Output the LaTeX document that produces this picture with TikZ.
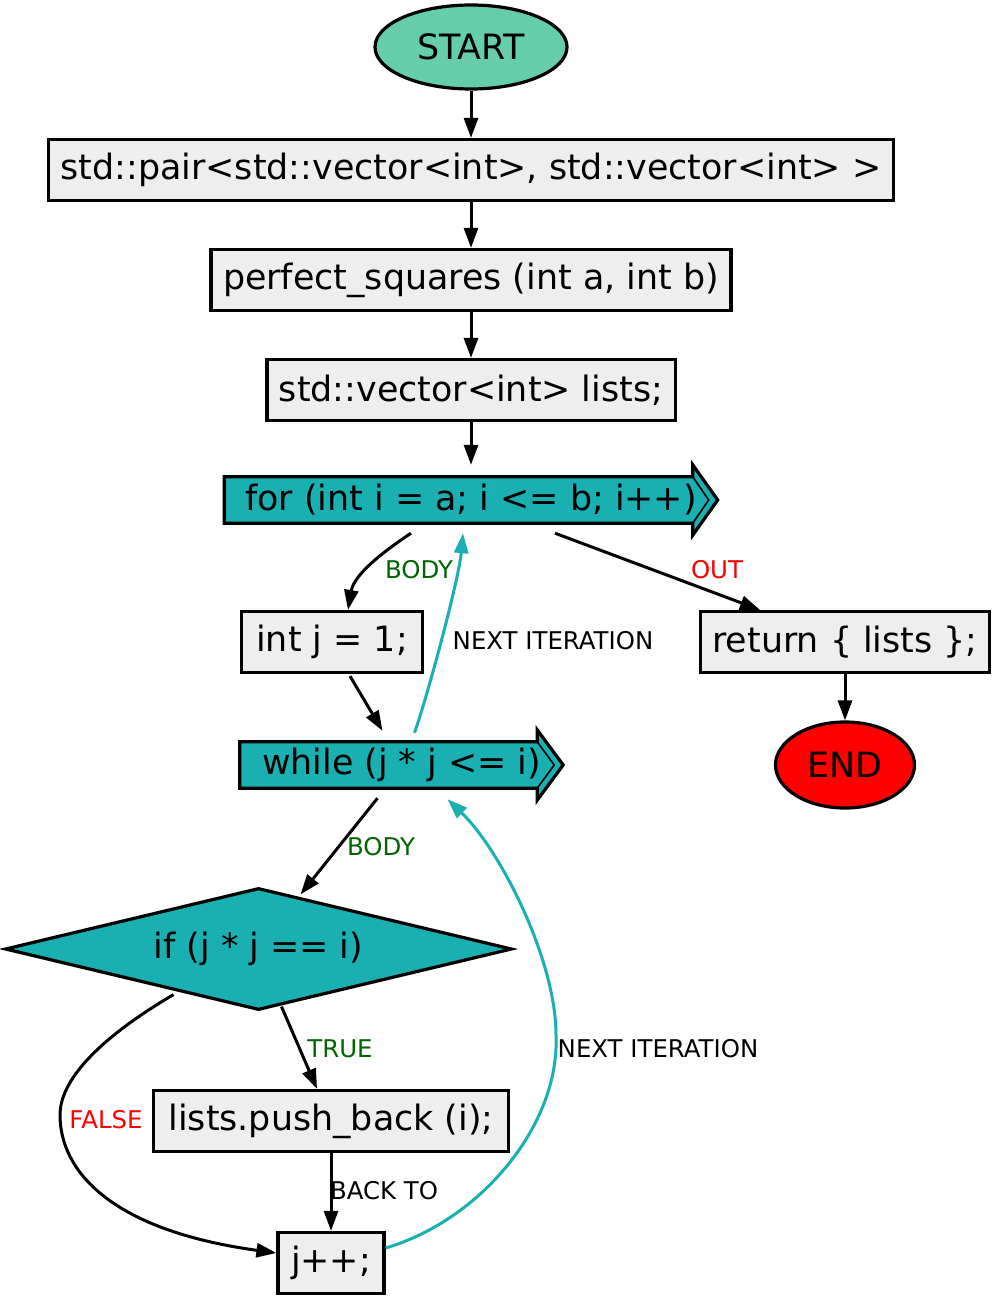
\documentclass[tikz,border=0pt]{standalone}
\usepackage{fontspec}
\setmainfont{DejaVu Sans}
\usetikzlibrary{shapes.geometric,arrows.meta,backgrounds,calc}
\definecolor{loopcol}{HTML}{1AAFB0}
\definecolor{startcol}{HTML}{66CDAA}
\definecolor{boxgray}{HTML}{EEEEEE}
\definecolor{truecol}{HTML}{006400}

\begin{document}
\begin{tikzpicture}[x=1bp, y=-1bp,
    statement/.style ={rectangle, draw, line width=3.2bp, fill=boxgray, inner xsep=12bp, inner ysep=0pt, minimum height=61bp, font=\fontsize{35}{42}\selectfont},
    loop/.style ={rectangle, inner sep=0pt, minimum height=46bp, font=\fontsize{35}{42}\selectfont},
    terminal/.style ={ellipse, draw, line width=3.2bp, inner sep=0pt, font=\fontsize{35}{42}\selectfont},
    decision/.style ={diamond, aspect=4.16, draw, line width=3.2bp, fill=loopcol, inner sep=0pt, font=\fontsize{35}{42}\selectfont},
    outline/.style ={line width=3.2bp, fill=loopcol, line join=miter},
    flow/.style ={line width=3bp, -{Triangle[length=20bp,width=14bp]}},
    back/.style ={flow, draw=loopcol, -{Triangle[length=20bp,width=14bp,fill=loopcol]}},
    lbl/.style ={font=\fontsize{24.5}{29}\selectfont, inner sep=0pt}]
   \useasboundingbox (0,0) rectangle (993,1299);

   \node[terminal, fill=startcol, minimum width=192bp, minimum height=84bp] (start) at (471,47) {START};
   \node[statement] (pair)  at (471,170)  {std::pair<std::vector<int>, std::vector<int> >};
   \node[statement] (perf)  at (471,280)  {perfect\_squares (int a, int b)};
   \node[statement] (lists) at (471,390)  {std::vector<int> lists;};
   \node[loop, minimum width=493bp] (for) at (471,500) {for (int i = a; i <= b; i++)};
   \node[statement, minimum width=181bp] (intj)  at (332,642)  {int j = 1;};
   \node[statement, minimum width=286bp] (ret)   at (845,642)  {return \{ lists \};};
   \node[terminal, fill=red, minimum width=139bp, minimum height=86bp] (end) at (845,765) {END};
   \node[loop, minimum width=323bp] (while) at (401.5,765) {while (j * j <= i)};
   \node[decision, minimum width=507bp, minimum height=122bp] (if) at (258.5,949) {if (j * j == i)};
   \node[statement, minimum width=355bp] (push)  at (331,1121) {lists.push\_back (i);};
   \node[statement, minimum width=106bp] (jpp)   at (331,1263) {j++;};

   \begin{scope}[on background layer]
   \draw[outline] (for.north west) -- ($(for.north east)+(-25,0)$) -- ++(0,-12) -- (for.east)
      -- ($(for.south east)+(-25,12)$) -- ++(0,-12) -- (for.south west) -- cycle;
   \draw[line width=1.6bp] ($(for.north east)+(-25,0)$) -- ($(for.east)+(-9,0)$) -- ($(for.south east)+(-25,0)$);
   \draw[outline] (while.north west) -- ($(while.north east)+(-26,0)$) -- ++(0,-12) -- (while.east)
      -- ($(while.south east)+(-26,12)$) -- ++(0,-12) -- (while.south west) -- cycle;
   \draw[line width=1.6bp] ($(while.north east)+(-26,0)$) -- ($(while.east)+(-9,0)$) -- ($(while.south east)+(-26,0)$);
   \end{scope}

   \draw[flow] (start) to (pair);
   \draw[flow] (pair) to (perf);
   \draw[flow] (perf) to (lists);
   \draw[flow] (lists) to ([yshift=12bp]for.north);
   \draw[flow] ([xshift=-60bp,yshift=-10bp]for.south) .. controls +(-30,20) and +(6,-35) .. ([xshift=16bp]intj.north);
   \draw[flow] ([xshift=84bp,yshift=-10bp]for.south) to ([xshift=-85bp]ret.north);
   \draw[flow] (ret) to (end);
   \draw[flow] ([xshift=18bp,yshift=-2bp]intj.south) to ([xshift=-19bp,yshift=11bp]while.north);
   \draw[back] ([xshift=13bp,yshift=9bp]while.north) .. controls +(14,-40) and +(-4,45) .. ([xshift=-8bp,yshift=-10bp]for.south);
   \draw[flow] ([xshift=-24bp,yshift=-10bp]while.south) to ([xshift=42bp,yshift=-8bp]if.north);
   \draw[flow] ([xshift=23bp,yshift=5bp]if.south) to ([xshift=-14bp]push.north);
   \draw[flow] ([xshift=-85bp,yshift=17bp]if.south) .. controls +(-63,37) and +(0,-40) .. (60,1115)
      .. controls +(0,55) and +(-167,-23) .. ([yshift=10bp]jpp.west);
   \draw[flow] (push) to (jpp);
   \draw[back] ([yshift=15bp]jpp.east) .. controls +(95,-28) and +(4,90) .. (556,1035)
      .. controls +(0,-75) and +(53,51) .. ([xshift=46bp,yshift=-11bp]while.south);

   \node[lbl, text=truecol] (lbody1) at (419,570)  {BODY};
   \node[lbl, text=red]     (lout)   at (717,570)  {OUT};
   \node[lbl]               (lnext1) at (553,641)  {NEXT ITERATION};
   \node[lbl, text=truecol] (lbody2) at (381,847)  {BODY};
   \node[lbl, text=truecol] (ltrue)  at (340,1049) {TRUE};
   \node[lbl, text=red]     (lfalse) at (106,1120) {FALSE};
   \node[lbl]               (lback)  at (384,1191) {BACK TO};
   \node[lbl]               (lnext2) at (658,1049) {NEXT ITERATION};

 \end{tikzpicture}
\end{document}
